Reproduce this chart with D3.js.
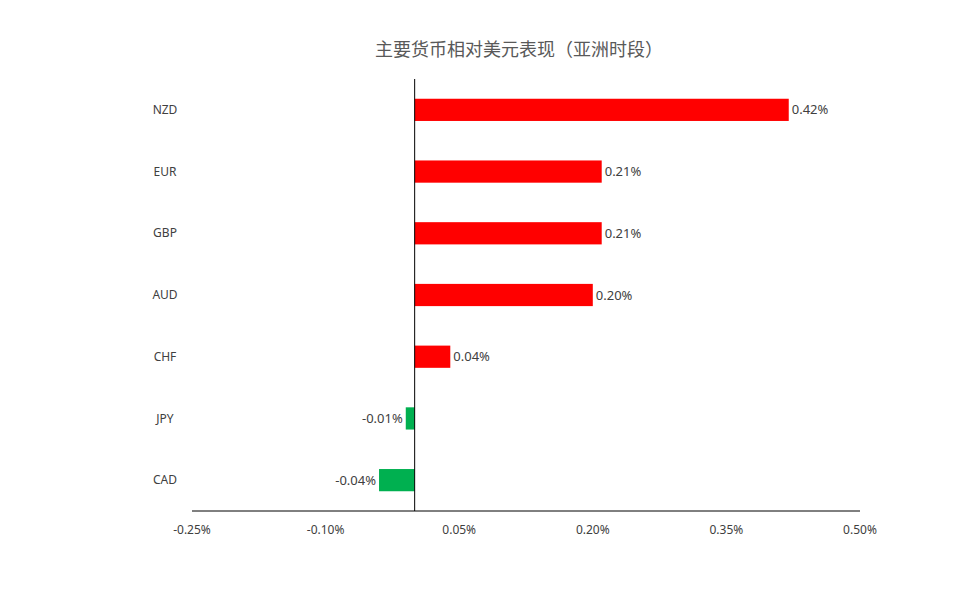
<!DOCTYPE html>
<html><head><meta charset="utf-8">
<script src="https://cdn.jsdelivr.net/npm/d3@7"></script>
<style>body{margin:0;background:#fff}</style>
</head><body>
<script>
const currencies = ["NZD","EUR","GBP","AUD","CHF","JPY","CAD"];
const changes = [0.42,0.21,0.21,0.20,0.04,-0.01,-0.04];
const tickValues = [-0.25,-0.10,0.05,0.20,0.35,0.50];

const svg = d3.select("body").append("svg").attr("width",978).attr("height",608);
const x = d3.scaleLinear().domain([-0.25,0.5]).range([192,860]);
const y = d3.scaleBand().domain(currencies).range([79,511]).paddingInner(0.64).paddingOuter(0.32);

svg.append("text").attr("x",519).attr("y",56).attr("text-anchor","middle")
  .attr("font-family","Noto Sans CJK SC").attr("font-size",18).attr("fill","#595959")
  .text("主要货币相对美元表现（亚洲时段）");

svg.selectAll("rect.bar").data(currencies).join("rect")
  .attr("x",(d,i)=>x(Math.min(0,changes[i])))
  .attr("width",(d,i)=>Math.abs(x(changes[i])-x(0)))
  .attr("y",d=>y(d)).attr("height",y.bandwidth())
  .attr("fill",(d,i)=>changes[i]>=0?"#ff0000":"#00b050");

svg.selectAll("text.val").data(currencies).join("text")
  .attr("x",(d,i)=>changes[i]>=0?x(changes[i])+3:x(changes[i])-3)
  .attr("y",d=>y(d)+y.bandwidth()/2).attr("dy","0.35em")
  .attr("text-anchor",(d,i)=>changes[i]>=0?"start":"end")
  .attr("font-family","Noto Sans").attr("font-size",13).attr("fill","#404040")
  .text((d,i)=>changes[i].toFixed(2)+"%");

svg.selectAll("text.cat").data(currencies).join("text")
  .attr("x",165).attr("y",d=>y(d)+y.bandwidth()/2).attr("dy","0.35em")
  .attr("text-anchor","middle").attr("font-family","Noto Sans").attr("font-size",12).attr("fill","#404040")
  .text(d=>d);

svg.append("line").attr("x1",x(0)).attr("x2",x(0)).attr("y1",79).attr("y2",511).attr("stroke","#000");
svg.append("line").attr("x1",192).attr("x2",860).attr("y1",511).attr("y2",511).attr("stroke","#000");

svg.selectAll("text.tick").data(tickValues).join("text")
  .attr("x",d=>x(d)).attr("y",534).attr("text-anchor","middle")
  .attr("font-family","Noto Sans").attr("font-size",12).attr("fill","#404040")
  .text(d=>d.toFixed(2)+"%");
</script>
</body></html>
